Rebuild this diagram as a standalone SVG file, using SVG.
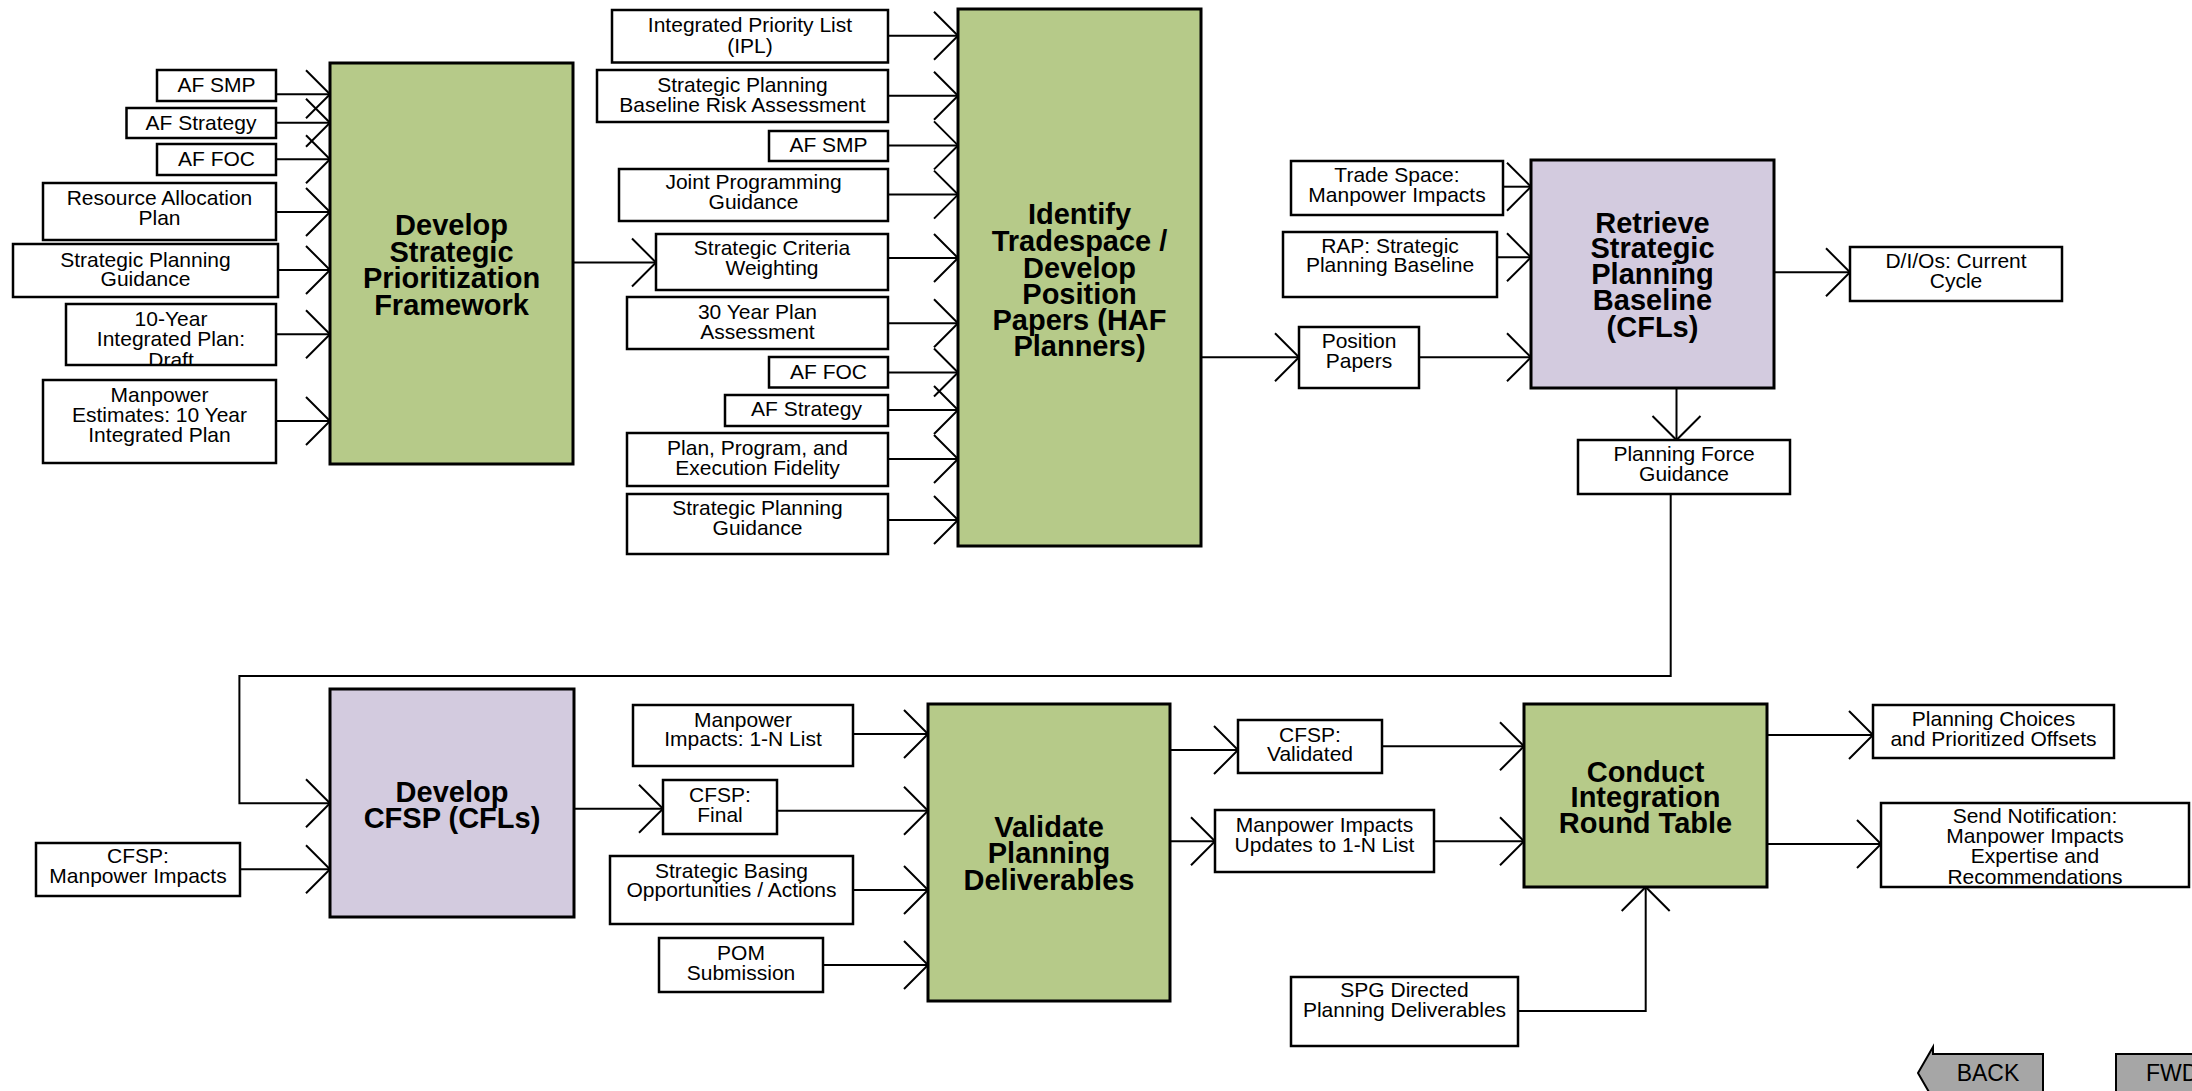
<svg xmlns="http://www.w3.org/2000/svg" width="2192" height="1091" viewBox="0 0 2192 1091">
<style>
.box{fill:#fff;stroke:#000;stroke-width:2.5}
.g{fill:#b6ca89;stroke:#000;stroke-width:3}
.p{fill:#d3cbdf;stroke:#000;stroke-width:3}
.btn{fill:#a6a6a6;stroke:#000;stroke-width:2}
text{font-family:"Liberation Sans",Arial,sans-serif;text-anchor:middle;fill:#000}
.l{font-size:21px}
.t{font-size:29px;font-weight:bold}
.b{font-size:23px}
.c{fill:none;stroke:#000;stroke-width:2}
</style>
<defs>
<marker id="ah" markerUnits="userSpaceOnUse" viewBox="-26 -26 28 52" refX="0" refY="0" markerWidth="28" markerHeight="52" orient="auto" overflow="visible">
<path d="M-24,-24 L0,0 L-24,24" fill="none" stroke="#000" stroke-width="2"/>
</marker>
<clipPath id="c10"><rect x="66" y="304" width="210" height="61"/></clipPath>
<clipPath id="csn"><rect x="1881" y="803" width="308" height="84"/></clipPath>
</defs>
<rect width="2192" height="1091" fill="#fff"/>

<g id="connectors" class="c" marker-end="url(#ah)">
<path d="M276,94.3H330"/>
<path d="M276,122.7H330"/>
<path d="M276,159.3H330"/>
<path d="M276,212H330"/>
<path d="M278,270H330"/>
<path d="M276,334.3H330"/>
<path d="M276,421H330"/>
<path d="M573,262.5H656"/>
<path d="M888,35.7H958"/>
<path d="M888,95.7H958"/>
<path d="M888,145.4H958"/>
<path d="M888,194.6H958"/>
<path d="M888,258H958"/>
<path d="M888,323.2H958"/>
<path d="M888,372.5H958"/>
<path d="M888,410H958"/>
<path d="M888,459H958"/>
<path d="M888,520H958"/>
<path d="M1201,357.3H1299"/>
<path d="M1419,357.3H1531"/>
<path d="M1503,186.7H1531"/>
<path d="M1497,257.3H1531"/>
<path d="M1774,272.3H1850"/>
<path d="M1676.5,388V440"/>
<path d="M1670.7,494V676H239.4V803.3H330"/>
<path d="M240,869.3H330"/>
<path d="M574,808.7H663"/>
<path d="M777,810.7H928"/>
<path d="M853,734H928"/>
<path d="M853,890H928"/>
<path d="M823,965H928"/>
<path d="M1170,750H1238"/>
<path d="M1382,746.3H1524"/>
<path d="M1170,841.3H1215"/>
<path d="M1434,841.3H1524"/>
<path d="M1767,735H1873"/>
<path d="M1767,844H1881"/>
<path d="M1518,1011H1645.7V887"/>
</g>

<g id="n_af_smp_1"><rect class="box" x="157" y="70" width="119" height="31"/><text class="l" x="216.5" y="92">AF SMP</text></g>
<g id="n_af_strategy_1"><rect class="box" x="126.5" y="108" width="149.5" height="30"/><text class="l" x="201" y="129.5">AF Strategy</text></g>
<g id="n_af_foc_1"><rect class="box" x="157" y="144" width="119" height="31"/><text class="l" x="216.5" y="165.5">AF FOC</text></g>
<g id="n_rap"><rect class="box" x="43" y="183" width="233" height="57"/><text class="l" x="159.5" y="205"><tspan x="159.5">Resource Allocation</tspan><tspan x="159.5" y="225">Plan</tspan></text></g>
<g id="n_spg_1"><rect class="box" x="13" y="244" width="265" height="53"/><text class="l" x="145.5" y="266.7"><tspan x="145.5">Strategic Planning</tspan><tspan x="145.5" y="286">Guidance</tspan></text></g>
<g id="n_10yr"><rect class="box" x="66" y="304" width="210" height="61"/><text class="l" x="171" y="326" clip-path="url(#c10)"><tspan x="171">10-Year</tspan><tspan x="171" y="346">Integrated Plan:</tspan><tspan x="171" y="367">Draft</tspan></text></g>
<g id="n_mp_est"><rect class="box" x="43" y="380" width="233" height="83"/><text class="l" x="159.5" y="401.7"><tspan x="159.5">Manpower</tspan><tspan x="159.5" y="421.7">Estimates: 10 Year</tspan><tspan x="159.5" y="441.7">Integrated Plan</tspan></text></g>
<g id="n_dspf"><rect class="g" x="330" y="63" width="243" height="401"/><text class="t" x="451.5" y="235"><tspan x="451.5">Develop</tspan><tspan x="451.5" y="261.7">Strategic</tspan><tspan x="451.5" y="288.3">Prioritization</tspan><tspan x="451.5" y="315">Framework</tspan></text></g>

<g id="n_ipl"><rect class="box" x="612" y="10" width="276" height="52.5"/><text class="l" x="750" y="32"><tspan x="750">Integrated Priority List</tspan><tspan x="750" y="53">(IPL)</tspan></text></g>
<g id="n_spbra"><rect class="box" x="597" y="70" width="291" height="52"/><text class="l" x="742.5" y="92"><tspan x="742.5">Strategic Planning</tspan><tspan x="742.5" y="112">Baseline Risk Assessment</tspan></text></g>
<g id="n_af_smp_2"><rect class="box" x="769" y="131" width="119" height="30"/><text class="l" x="828.5" y="152">AF SMP</text></g>
<g id="n_jpg"><rect class="box" x="619" y="169" width="269" height="52"/><text class="l" x="753.5" y="189.3"><tspan x="753.5">Joint Programming</tspan><tspan x="753.5" y="209">Guidance</tspan></text></g>
<g id="n_scw"><rect class="box" x="656" y="234" width="232" height="56"/><text class="l" x="772" y="255.4"><tspan x="772">Strategic Criteria</tspan><tspan x="772" y="275">Weighting</tspan></text></g>
<g id="n_30yr"><rect class="box" x="627" y="297" width="261" height="52"/><text class="l" x="757.5" y="319"><tspan x="757.5">30 Year Plan</tspan><tspan x="757.5" y="338.6">Assessment</tspan></text></g>
<g id="n_af_foc_2"><rect class="box" x="769" y="357" width="119" height="30.5"/><text class="l" x="828.5" y="378.6">AF FOC</text></g>
<g id="n_af_strategy_2"><rect class="box" x="725" y="395" width="163" height="31"/><text class="l" x="806.5" y="416">AF Strategy</text></g>
<g id="n_ppef"><rect class="box" x="627" y="433" width="261" height="53"/><text class="l" x="757.5" y="455.4"><tspan x="757.5">Plan, Program, and</tspan><tspan x="757.5" y="475">Execution Fidelity</tspan></text></g>
<g id="n_spg_2"><rect class="box" x="627" y="494" width="261" height="60"/><text class="l" x="757.5" y="515.4"><tspan x="757.5">Strategic Planning</tspan><tspan x="757.5" y="534.6">Guidance</tspan></text></g>
<g id="n_itdpp"><rect class="g" x="958" y="9" width="243" height="537"/><text class="t" x="1079.5" y="224.3"><tspan x="1079.5">Identify</tspan><tspan x="1079.5" y="251">Tradespace /</tspan><tspan x="1079.5" y="277.9">Develop</tspan><tspan x="1079.5" y="303.6">Position</tspan><tspan x="1079.5" y="330.4">Papers (HAF</tspan><tspan x="1079.5" y="356">Planners)</tspan></text></g>

<g id="n_tsmi"><rect class="box" x="1291" y="161" width="212" height="54"/><text class="l" x="1397" y="181.7"><tspan x="1397">Trade Space:</tspan><tspan x="1397" y="201.7">Manpower Impacts</tspan></text></g>
<g id="n_rapspb"><rect class="box" x="1283" y="232" width="214" height="65"/><text class="l" x="1390" y="253.3"><tspan x="1390">RAP: Strategic</tspan><tspan x="1390" y="272.3">Planning Baseline</tspan></text></g>
<g id="n_pp"><rect class="box" x="1299" y="327" width="120" height="61"/><text class="l" x="1359" y="348.3"><tspan x="1359">Position</tspan><tspan x="1359" y="368.3">Papers</tspan></text></g>
<g id="n_rspb"><rect class="p" x="1531" y="160" width="243" height="228"/><text class="t" x="1652.5" y="233.3"><tspan x="1652.5">Retrieve</tspan><tspan x="1652.5" y="258.3">Strategic</tspan><tspan x="1652.5" y="284">Planning</tspan><tspan x="1652.5" y="310">Baseline</tspan><tspan x="1652.5" y="336.7">(CFLs)</tspan></text></g>
<g id="n_dios"><rect class="box" x="1850" y="247" width="212" height="54"/><text class="l" x="1956" y="268.3"><tspan x="1956">D/I/Os: Current</tspan><tspan x="1956" y="288.3">Cycle</tspan></text></g>
<g id="n_pfg"><rect class="box" x="1578" y="440" width="212" height="54"/><text class="l" x="1684" y="460.7"><tspan x="1684">Planning Force</tspan><tspan x="1684" y="480.7">Guidance</tspan></text></g>

<g id="n_dcfsp"><rect class="p" x="330" y="689" width="244" height="228"/><text class="t" x="452" y="801.7"><tspan x="452">Develop</tspan><tspan x="452" y="828.3">CFSP (CFLs)</tspan></text></g>
<g id="n_cfsp_mi"><rect class="box" x="36" y="843" width="204" height="53"/><text class="l" x="138" y="863.3"><tspan x="138">CFSP:</tspan><tspan x="138" y="883.3">Manpower Impacts</tspan></text></g>
<g id="n_mi1n"><rect class="box" x="633" y="705" width="220" height="61"/><text class="l" x="743" y="726.7"><tspan x="743">Manpower</tspan><tspan x="743" y="746">Impacts: 1-N List</tspan></text></g>
<g id="n_cfsp_final"><rect class="box" x="663" y="780" width="114" height="54"/><text class="l" x="720" y="801.7"><tspan x="720">CFSP:</tspan><tspan x="720" y="821.7">Final</tspan></text></g>
<g id="n_sbo"><rect class="box" x="610" y="856" width="243" height="68"/><text class="l" x="731.5" y="878.3"><tspan x="731.5">Strategic Basing</tspan><tspan x="731.5" y="897.3">Opportunities / Actions</tspan></text></g>
<g id="n_pom"><rect class="box" x="659" y="938" width="164" height="54"/><text class="l" x="741" y="960"><tspan x="741">POM</tspan><tspan x="741" y="980">Submission</tspan></text></g>
<g id="n_vpd"><rect class="g" x="928" y="704" width="242" height="297"/><text class="t" x="1049" y="836.7"><tspan x="1049">Validate</tspan><tspan x="1049" y="863.3">Planning</tspan><tspan x="1049" y="890">Deliverables</tspan></text></g>
<g id="n_cfsp_val"><rect class="box" x="1238" y="720" width="144" height="53"/><text class="l" x="1310" y="741.7"><tspan x="1310">CFSP:</tspan><tspan x="1310" y="761">Validated</tspan></text></g>
<g id="n_miupd"><rect class="box" x="1215" y="810" width="219" height="62"/><text class="l" x="1324.5" y="831.7"><tspan x="1324.5">Manpower Impacts</tspan><tspan x="1324.5" y="851.7">Updates to 1-N List</tspan></text></g>
<g id="n_cirt"><rect class="g" x="1524" y="704" width="243" height="183"/><text class="t" x="1645.5" y="781.7"><tspan x="1645.5">Conduct</tspan><tspan x="1645.5" y="807.3">Integration</tspan><tspan x="1645.5" y="833.3">Round Table</tspan></text></g>
<g id="n_pcpo"><rect class="box" x="1873" y="705" width="241" height="53"/><text class="l" x="1993.5" y="725.7"><tspan x="1993.5">Planning Choices</tspan><tspan x="1993.5" y="745.7">and Prioritized Offsets</tspan></text></g>
<g id="n_sendn"><rect class="box" x="1881" y="803" width="308" height="84"/><text class="l" x="2035" y="823.3" clip-path="url(#csn)"><tspan x="2035">Send Notification:</tspan><tspan x="2035" y="843.3">Manpower Impacts</tspan><tspan x="2035" y="863.3">Expertise and</tspan><tspan x="2035" y="884">Recommendations</tspan></text></g>
<g id="n_spgd"><rect class="box" x="1291" y="977" width="227" height="69"/><text class="l" x="1404.5" y="996.7"><tspan x="1404.5">SPG Directed</tspan><tspan x="1404.5" y="1017.3">Planning Deliverables</tspan></text></g>

<g id="btn_back"><path class="btn" d="M1918,1073 L1933,1047 V1054 H2043 V1100 H1933 V1099 Z"/><text class="b" x="1988" y="1081">BACK</text></g>
<g id="btn_fwd"><rect class="btn" x="2116" y="1054" width="90" height="50"/><text class="b" x="2146" y="1081" style="text-anchor:start">FWD</text></g>
</svg>
